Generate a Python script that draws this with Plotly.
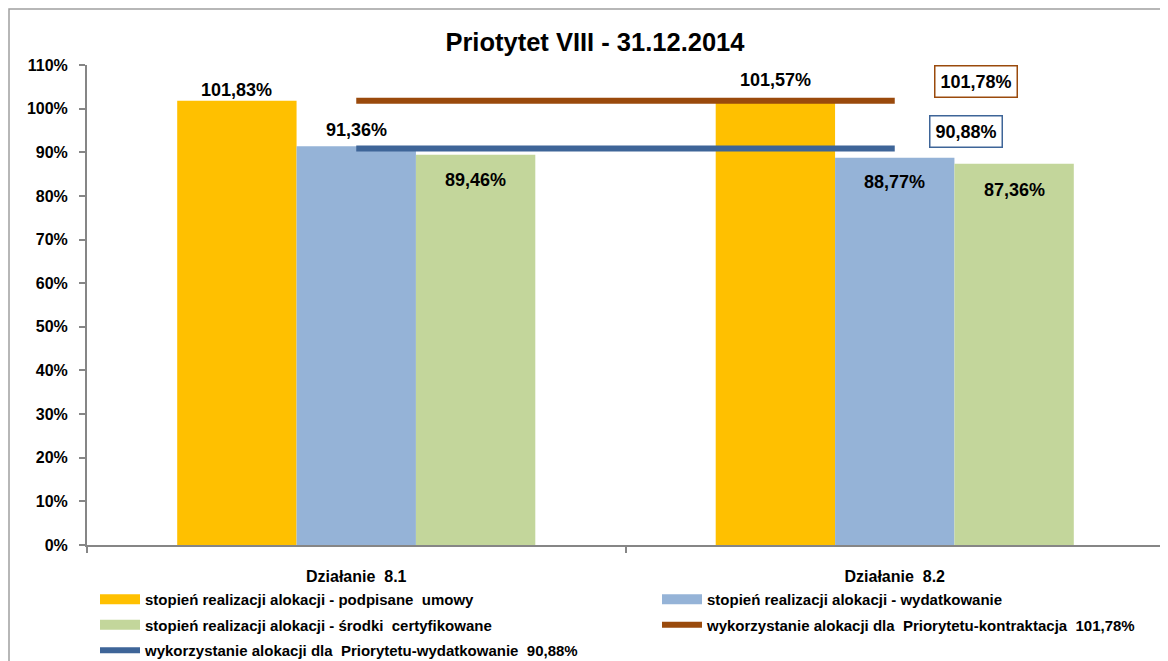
import plotly.graph_objects as go

categories = ["Działanie  8.1", "Działanie  8.2"]
podpisane = [101.83, 101.57]
wydatkowanie = [91.36, 88.77]
certyfikowane = [89.46, 87.36]
kontraktacja_prio = [101.78, 101.78]
wydatkowanie_prio = [90.88, 90.88]
y_ticks = [0, 10, 20, 30, 40, 50, 60, 70, 80, 90, 100, 110]

names = [
    "stopień realizacji alokacji - podpisane  umowy",
    "stopień realizacji alokacji - wydatkowanie",
    "stopień realizacji alokacji - środki  certyfikowane",
    "wykorzystanie alokacji dla  Priorytetu-kontraktacja  101,78%",
    "wykorzystanie alokacji dla  Priorytetu-wydatkowanie  90,88%",
]

C_YEL = "#FFC000"
C_BLU = "#95B3D7"
C_GRN = "#C3D69B"
C_BRN = "#9A4A0C"
C_DBL = "#3E6598"

FONT = "Liberation Sans"
BARGAP = 0.335

# label vertical offsets in px (style, not data)
label_dy = [[11, 22], [16, -24], [-25, -26]]

def fmt(v):
    return f"{v:.2f}".replace(".", ",") + "%"

fig = go.Figure()

series = [(podpisane, C_YEL), (wydatkowanie, C_BLU), (certyfikowane, C_GRN)]
nser = len(series)
bw = (1 - BARGAP) / nser
for k, (vals, col) in enumerate(series):
    fig.add_trace(go.Bar(
        x=categories, y=vals, marker=dict(color=col, line=dict(width=0)),
        showlegend=False, hoverinfo="skip",
    ))
    for i, v in enumerate(vals):
        fig.add_annotation(x=i + (k - (nser - 1) / 2) * bw, y=v, text=fmt(v),
                           showarrow=False, yshift=label_dy[k][i],
                           xanchor="center", yanchor="middle",
                           font=dict(family=FONT, size=18, color="black", weight="bold"))

# line traces
fig.add_trace(go.Scatter(x=categories, y=kontraktacja_prio, mode="lines",
                         line=dict(color=C_BRN, width=6), showlegend=False))
fig.add_trace(go.Scatter(x=categories, y=wydatkowanie_prio, mode="lines",
                         line=dict(color=C_DBL, width=6), showlegend=False))

# legend proxies
leg_items = [
    (names[0], C_YEL, 11, "legend", "g1"),
    (names[2], C_GRN, 11, "legend", "g3"),
    (names[4], C_DBL, 6, "legend", "g5"),
    (names[1], C_BLU, 11, "legend2", "g2"),
    (names[3], C_BRN, 6, "legend2", "g4"),
]
for nm, col, w, lg, grp in leg_items:
    fig.add_trace(go.Scatter(x=[None], y=[None], mode="lines", name=nm,
                             line=dict(color=col, width=w), legend=lg,
                             legendgroup=grp))

# boxed labels for priority lines
for vals, col, xs, ys in [(kontraktacja_prio, C_BRN, 81, 19), (wydatkowanie_prio, C_DBL, 71, 17)]:
    fig.add_annotation(x=categories[-1], y=vals[-1], text=fmt(vals[-1]),
                       showarrow=False, xshift=xs, yshift=ys,
                       font=dict(family=FONT, size=18, color="black", weight="bold"),
                       bordercolor=col, borderwidth=1.5, borderpad=5, bgcolor="white")

# plot area in figure px: left 79, width 1077, top 57, height 480
PL, PW, PT, PH = 79, 1077, 57, 480

# outer border
fig.add_shape(type="rect", xref="paper", yref="paper",
              x0=(1 - PL) / PW, x1=(1165 - PL) / PW,
              y0=-0.4, y1=(PT + PH - 1) / PH,
              line=dict(color="#A0A0A0", width=1.5), layer="below")

leg_common = dict(orientation="v", xanchor="left", yanchor="top", itemwidth=40,
                  tracegroupgap=3, traceorder="grouped",
                  font=dict(family=FONT, size=15, weight="bold"),
                  bgcolor="rgba(0,0,0,0)")
leg_y = (PT + PH - 575) / PH

fig.update_layout(
    width=1160, height=653,
    margin=dict(l=PL, r=1160 - PL - PW, t=PT, b=653 - PT - PH, autoexpand=False),
    paper_bgcolor="white", plot_bgcolor="white",
    barmode="group", bargap=BARGAP, bargroupgap=0,
    title=dict(text="Priotytet VIII - 31.12.2014", x=0.506, xanchor="center",
               y=1 - 34 / 653, yanchor="middle",
               font=dict(family=FONT, size=25.5, color="black", weight="bold")),
    font=dict(family=FONT, color="black"),
    xaxis=dict(showline=True, linecolor="#868686", linewidth=2, ticks="outside",
               tickson="boundaries", ticklen=6, tickcolor="#868686", tickwidth=2,
               tickfont=dict(family=FONT, size=16, weight="bold"),
               ticklabelstandoff=16, showgrid=False),
    yaxis=dict(range=[0, 110], tickmode="array", tickvals=y_ticks,
               ticktext=[f"{v}%" for v in y_ticks],
               showline=True, linecolor="#868686", linewidth=2, ticks="outside",
               ticklen=6, tickcolor="#868686", tickwidth=2,
               tickfont=dict(family=FONT, size=16, weight="bold"),
               ticklabelstandoff=8, showgrid=False, zeroline=False),
    legend=dict(x=(87 - PL) / PW, y=leg_y, **leg_common),
    legend2=dict(x=(649 - PL) / PW, y=leg_y, **leg_common),
)

fig.write_html("out.html")
